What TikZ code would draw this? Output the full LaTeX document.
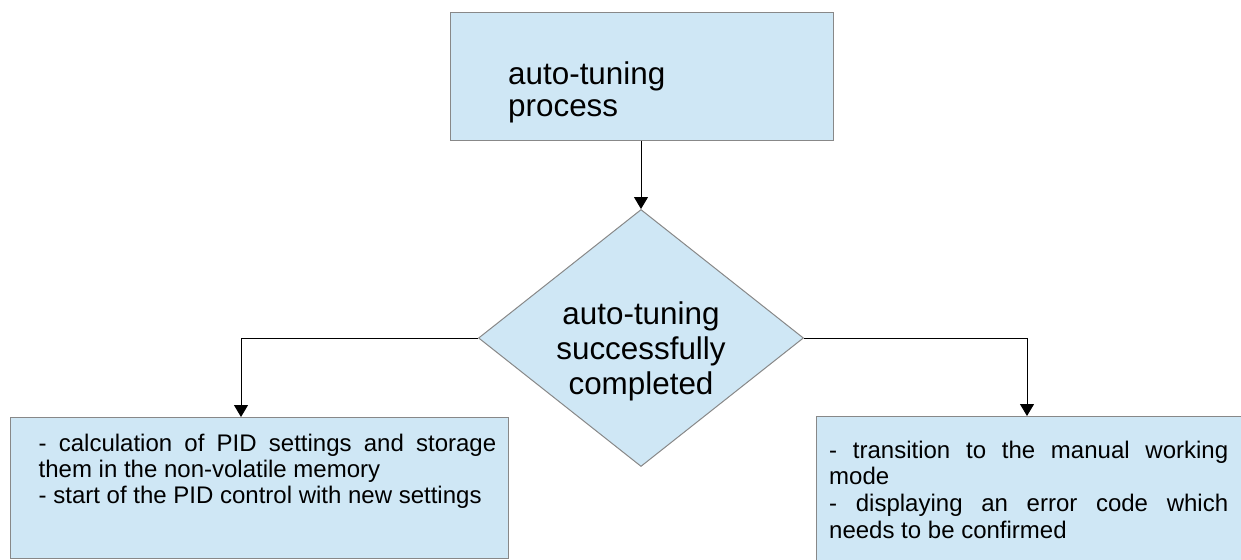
\documentclass[tikz,border=0pt]{standalone}
\usepackage{fontspec}
\setmainfont{Liberation Sans}
\usetikzlibrary{shapes.geometric,arrows.meta}
\definecolor{boxfill}{RGB}{207,231,245}
\definecolor{boxline}{RGB}{136,136,136}
\tikzset{
  box/.style={draw=boxline, fill=boxfill, line width=1pt, rectangle, inner sep=0pt, anchor=north west},
  decision/.style={draw=boxline, fill=boxfill, line width=1pt, diamond, inner sep=0pt, aspect=1.27},
  conn/.style={draw=black, line width=1pt, -{Triangle[width=14pt,length=12pt]}},
  bigtext/.style={inner sep=0pt, font=\fontsize{31.4}{35}\selectfont},
  smalltext/.style={inner sep=0pt, font=\fontsize{24}{26.6}\selectfont, anchor=base west},
}
\begin{document}
\begin{tikzpicture}[x=1pt,y=-1pt]
\useasboundingbox (0,0) rectangle (1241,559);
\clip (0,0) rectangle (1241,559);
\fill[white] (0,0) rectangle (1241,559);

% shapes
\node[box, minimum width=383pt, minimum height=127.5pt] (top) at (450,12) {};
\node[decision, minimum width=325pt, minimum height=257pt] (dia) at (641,338) {};
\node[box, minimum width=498pt, minimum height=141pt] (lbox) at (10,417) {};
\node[box, minimum width=440pt, minimum height=160pt] (rbox) at (816,416) {};

% texts
\node[bigtext, anchor=base west] (toptext) at (508,85)
  {\vtop{\baselineskip=31.5pt \hbox{auto-tuning}\hbox{process}}};
\node[bigtext, anchor=base] (diatext) at (641,324)
  {\vtop{\baselineskip=35pt
    \hbox to 0pt{\hss auto-tuning\hss}
    \hbox to 0pt{\hss successfully\hss}
    \hbox to 0pt{\hss completed\hss}}};
\node[smalltext] (ltext) at (38.5,451)
  {\vtop{\baselineskip=26.2pt
    \hbox{\makebox[457.5pt][s]{- calculation of PID settings and storage}}
    \hbox{them in the non-volatile memory}
    \hbox{- start of the PID control with new settings}}};
\node[smalltext] (rtext) at (829,458)
  {\vtop{\baselineskip=26.9pt
    \hbox{\makebox[399pt][s]{- transition to the manual working}}
    \hbox{mode}
    \hbox{\makebox[399pt][s]{- displaying an error code which}}
    \hbox{needs to be confirmed}}};

% connectors
\draw[conn] (dia.north |- top.south) -- (dia.north);
\draw[conn] (dia.west) -| ([xshift=231pt]lbox.north west);
\draw[conn] (dia.east) -| ([xshift=211pt]rbox.north west);
\end{tikzpicture}
\end{document}
